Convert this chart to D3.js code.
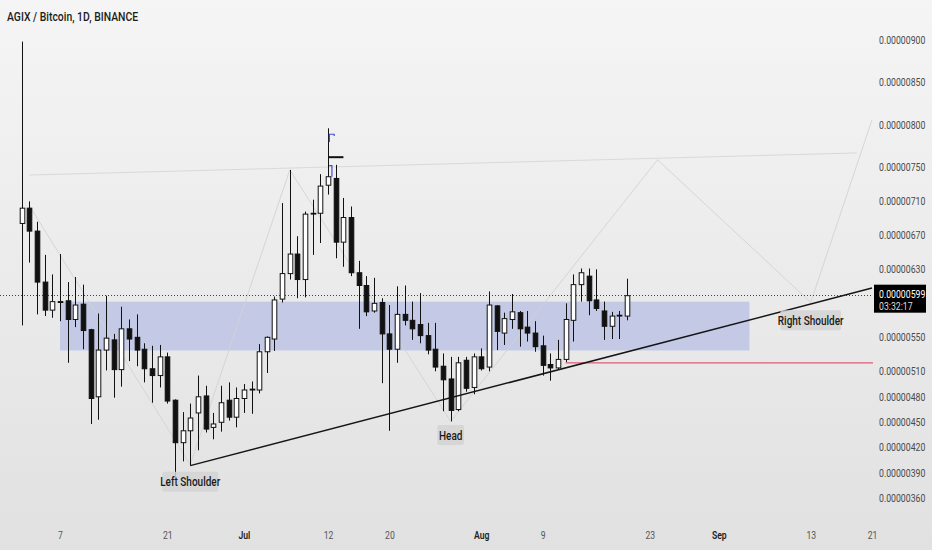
<!DOCTYPE html>
<html><head><meta charset="utf-8">
<script src="https://cdn.jsdelivr.net/npm/d3@7/dist/d3.min.js"></script>
<style>
html,body{margin:0;padding:0;background:#ececec;}
svg{display:block;font-family:Roboto,"Noto Sans",sans-serif;}
</style>
</head><body>
<svg id="chart" width="932" height="550"></svg>
<script>
// ---------------- DATA ----------------
const title = "AGIX / Bitcoin, 1D, BINANCE";
const firstCandleDate = "2021-06-02"; // daily candles, one per day
// prices in satoshi (1e-8 BTC)
const opens  = [684,702,675,615,582,592,593,571,589,559,480,535,547,512,560,550,536,513,505,527,
                476,426,440,461,481,444,450,476,456,478,488,488,533,548,595,625,648,618,695,696,
                729,737,662,691,626,611,581,591,554,536,577,570,565,552,536,516,501,465,523,491,
                527,515,587,555,571,579,562,555,540,518,514,524,570,612,622,594,581,563,575,575];
const highs  = [898,710,686,647,624,648,615,621,612,560,578,599,554,586,571,577,543,540,541,532,
                477,462,472,505,493,461,493,497,491,495,498,542,551,598,708,747,669,698,712,742,
                796,753,714,704,640,622,620,596,588,610,611,592,602,567,567,531,527,527,527,531,
                537,604,588,579,601,581,581,569,552,531,547,590,624,631,631,630,592,580,581,619];
const lows   = [564,638,577,575,573,569,520,562,536,448,453,511,479,492,522,516,497,473,491,472,
                385,404,399,417,438,430,439,452,444,461,460,484,508,534,591,618,596,597,647,661,
                718,643,633,622,560,575,579,496,440,520,564,547,543,530,510,463,451,463,486,483,
                511,510,535,541,560,539,545,533,505,499,512,521,545,592,576,581,547,548,548,570];
const closes = [702,675,615,582,592,591,571,588,558,478,535,549,512,560,548,535,513,505,527,475,
                426,440,455,480,442,448,473,456,478,488,489,533,550,594,625,648,618,695,696,728,
                739,662,691,626,611,580,590,554,536,577,570,560,552,535,515,500,464,520,490,527,
                513,588,557,572,580,560,555,539,517,514,524,571,612,626,593,584,563,575,576,599];

const currentPrice = 599;
const countdown = "03:32:17";

const yTickValues = [900,850,800,750,710,670,630,550,510,480,450,420,390,360];
const xTickDates  = ["2021-06-07","2021-06-21","2021-07-01","2021-07-12","2021-07-20","2021-08-01",
                     "2021-08-09","2021-08-23","2021-09-01","2021-09-13","2021-09-21"];
const xTickLabels = ["7","21","Jul","12","20","Aug","9","23","Sep","13","21"];
const xTickIsMonth = [false,false,true,false,false,true,false,false,true,false,false];

// drawings
const zoneDates  = ["2021-06-07","2021-09-05"];
const zonePrices = [534.5, 592];
const trendDates  = ["2021-06-24","2021-09-21"];
const trendPrices = [399, 608];
const supportStart = "2021-08-12";
const supportPrice = 520;
const zigDates  = ["2021-06-03","2021-06-24","2021-07-07","2021-07-28","2021-08-24","2021-09-13","2021-09-21"];
const zigPrices = [705, 400, 747, 451, 759, 591, 806];
const flatDates  = ["2021-06-03","2021-09-19"];
const flatPrices = [741, 767];
const markerDates = ["2021-07-12","2021-07-14"];
const markerPrice = 762;
const blueMarkA = [["2021-07-12T04:00Z",780],["2021-07-12T04:00Z",789],["2021-07-12T19:00Z",789],["2021-07-12T19:00Z",787]];
const blueMarkB = [["2021-07-12T03:00Z",752],["2021-07-12T12:00Z",752],["2021-07-12T12:00Z",739]];
const labelTexts  = ["Left Shoulder","Head","Right Shoulder"];
const labelDates  = ["2021-06-24","2021-07-28","2021-09-13"];
const labelPrices = [380, 435, 570];

// ---------------- CHART ----------------
const W = 932, H = 550, plotR = 873, plotB = 520;
const svg = d3.select("#chart");
const pd = s => new Date(s.length === 10 ? s + "T00:00:00Z" : s);

const x = d3.scaleUtc().domain([pd("2021-06-07"), pd("2021-09-21")]).range([60, 872]);
const y = d3.scaleLinear().domain([335, 947]).range([plotB, 0]);

const start = pd(firstCandleDate);
const candles = opens.map((o, i) => ({
  date: d3.utcDay.offset(start, i), o, h: highs[i], l: lows[i], c: closes[i]
}));

// background gradient
const defs = svg.append("defs");
const g1 = defs.append("linearGradient").attr("id","bg").attr("x1",0).attr("y1",0).attr("x2",0).attr("y2",1);
g1.append("stop").attr("offset","0%").attr("stop-color","#f5f5f5");
g1.append("stop").attr("offset","100%").attr("stop-color","#e1e1e1");
svg.append("rect").attr("width",W).attr("height",H).attr("fill","url(#bg)");

function condense(sel, k) {
  sel.each(function () {
    const w = this.getComputedTextLength();
    d3.select(this).attr("textLength", w * k).attr("lengthAdjust", "spacingAndGlyphs");
  });
}

// title
svg.append("text").attr("x", 7).attr("y", 21).attr("font-size", 13).attr("font-weight", 500)
  .attr("fill", "#1c1c1c").text(title).call(condense, 0.8);

const plot = svg.append("g");

// zone rectangle
plot.append("rect")
  .attr("x", x(pd(zoneDates[0]))).attr("width", x(pd(zoneDates[1])) - x(pd(zoneDates[0])))
  .attr("y", y(zonePrices[1])).attr("height", y(zonePrices[0]) - y(zonePrices[1]))
  .attr("fill", "#c4cae6");

// faint projection lines
const line = d3.line().x(d => x(d[0])).y(d => y(d[1]));
plot.append("path").attr("d", line(flatDates.map((d, i) => [pd(d), flatPrices[i]])))
  .attr("fill", "none").attr("stroke", "#d9d9d9").attr("stroke-width", 1);
plot.append("path").attr("d", line(zigDates.map((d, i) => [pd(d), zigPrices[i]])))
  .attr("fill", "none").attr("stroke", "#d2d2d2").attr("stroke-width", 0.9);

// current price dotted line
plot.append("line").attr("x1", 0).attr("x2", plotR).attr("y1", Math.round(y(currentPrice)) - 0.5)
  .attr("y2", Math.round(y(currentPrice)) - 0.5)
  .attr("stroke", "#444").attr("stroke-width", 1).attr("stroke-dasharray", "1,2");

// support red line
plot.append("line").attr("x1", x(pd(supportStart))).attr("x2", plotR)
  .attr("y1", y(supportPrice)).attr("y2", y(supportPrice))
  .attr("stroke", "#e05a78").attr("stroke-width", 1.3);

// candles
const cg = plot.append("g");
const bw = 4.6;
candles.forEach(d => {
  const cx = Math.round(x(d.date)) + 0.5;
  cg.append("line").attr("x1", cx).attr("x2", cx).attr("y1", y(d.h)).attr("y2", y(d.l))
    .attr("stroke", "#111").attr("stroke-width", 1);
  const top = y(Math.max(d.o, d.c)), bot = y(Math.min(d.o, d.c));
  const up = d.c >= d.o;
  cg.append("rect").attr("x", cx - bw / 2).attr("width", bw)
    .attr("y", top).attr("height", Math.max(0.8, bot - top))
    .attr("fill", up ? "#ffffff" : "#111").attr("stroke", "#111").attr("stroke-width", 1);
});

// trend line
plot.append("path").attr("d", line(trendDates.map((d, i) => [pd(d), trendPrices[i]])))
  .attr("stroke", "#151515").attr("stroke-width", 1.5).attr("fill", "none");

// annotations near the top
plot.append("line").attr("x1", x(pd(markerDates[0]))).attr("x2", x(pd(markerDates[1])))
  .attr("y1", y(markerPrice)).attr("y2", y(markerPrice)).attr("stroke", "#111").attr("stroke-width", 2);
[blueMarkA, blueMarkB].forEach(m => {
  plot.append("path").attr("d", line(m.map(p => [pd(p[0]), p[1]])))
    .attr("fill", "none").attr("stroke", "#4a4ad8").attr("stroke-width", 1.2);
});

// pattern labels
labelTexts.forEach((t, i) => {
  const cx = x(pd(labelDates[i])), cy = y(labelPrices[i]);
  const g = plot.append("g");
  const tx = g.append("text").attr("x", cx).attr("y", cy + 4.5).attr("text-anchor", "middle")
    .attr("font-size", 12.5).attr("font-weight", 500).attr("fill", "#1a1a1a").text(t);
  tx.call(condense, 0.8);
  const w = tx.node().getComputedTextLength() * 0.8;
  g.insert("rect", "text").attr("x", cx - w / 2 - 4).attr("y", cy - 10).attr("width", w + 8).attr("height", 20)
    .attr("rx", 2).attr("fill", "#d3d3d3").attr("fill-opacity", 0.85);
});

// y axis labels (right)
const yAxisG = svg.append("g").attr("transform", `translate(${plotR + 6},0)`);
const yAxis = d3.axisRight(y).tickValues(yTickValues).tickSize(0).tickPadding(0)
  .tickFormat(v => (v / 1e8).toFixed(8));
yAxisG.call(yAxis);
yAxisG.select(".domain").remove();
yAxisG.selectAll("text").attr("font-size", 10).attr("fill", "#4a4a4a")
  .attr("font-family", "Roboto,sans-serif").call(condense, 0.87);

// current price tag
const tagY = y(currentPrice) - 1;
const tag = svg.append("g");
tag.append("rect").attr("x", plotR + 1).attr("y", tagY - 10).attr("width", 52).attr("height", 28).attr("fill", "#000");
tag.append("text").attr("x", plotR + 6).attr("y", tagY + 3).attr("font-size", 10).attr("fill", "#fff")
  .text((currentPrice / 1e8).toFixed(8)).call(condense, 0.87);
tag.append("text").attr("x", plotR + 6).attr("y", tagY + 15).attr("font-size", 10).attr("fill", "#ddd")
  .text(countdown).call(condense, 0.87);

// x axis labels (bottom)
const xAxisG = svg.append("g").attr("transform", `translate(0,${plotB + 8})`);
const xAxis = d3.axisBottom(x).tickValues(xTickDates.map(pd)).tickSize(0).tickPadding(4)
  .tickFormat((d, i) => xTickLabels[i]);
xAxisG.call(xAxis);
xAxisG.select(".domain").remove();
xAxisG.selectAll("text").attr("font-size", 10.5).attr("font-family", "Roboto,sans-serif")
  .attr("fill", (d, i) => xTickIsMonth[i] ? "#222" : "#555")
  .attr("font-weight", (d, i) => xTickIsMonth[i] ? 600 : 400)
  .call(condense, 0.82);
</script>
</body></html>
